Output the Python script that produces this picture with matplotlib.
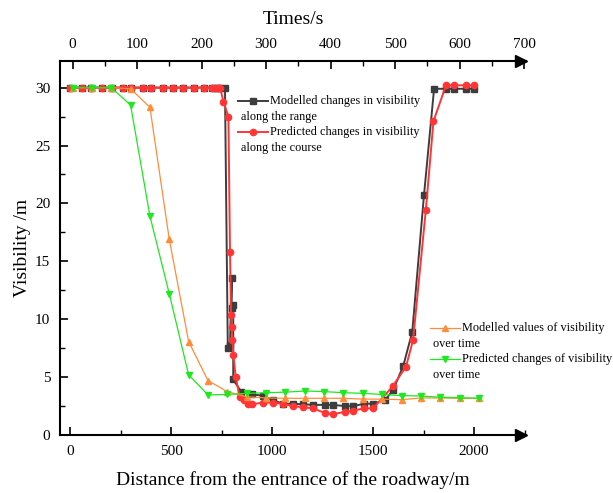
import matplotlib
matplotlib.use("Agg")
import matplotlib.pyplot as plt
import matplotlib.transforms as mtransforms
from matplotlib.lines import Line2D
from matplotlib.ticker import MultipleLocator

plt.rcParams['font.family'] = ['Liberation Serif', 'DejaVu Serif']

#------------------------------------------------------------------#
# distance series (bottom axis, m)
dist_top = [0, 59, 104, 158, 208, 262, 302, 361, 401, 460, 510, 559, 614, 663, 703, 718, 733, 743]

red_x = dist_top + [759, 784, 792, 797, 800, 804, 809, 820, 840, 861, 880, 899, 955, 1005, 1054,
                    1104, 1153, 1203, 1262, 1302, 1361, 1401, 1455, 1500, 1597, 1663, 1698,
                    1761, 1799, 1861, 1903, 1960, 2000]
red_y = [30.0] * len(dist_top) + [28.8, 27.5, 15.8, 10.4, 9.3, 8.2, 6.9, 5.0, 3.3, 3.0, 2.7, 2.65, 2.8, 2.8, 2.7,
                                  2.5, 2.4, 2.3, 1.9, 1.8, 2.0, 2.1, 2.3, 2.3, 4.2, 5.9, 8.2,
                                  19.4, 27.1, 30.2, 30.2, 30.2, 30.2]

black_x = dist_top + [767, 781, 792, 800, 800, 808, 808, 848, 899, 957, 1003, 1056, 1105, 1155, 1202,
                      1262, 1300, 1361, 1403, 1457, 1501, 1559, 1600, 1650, 1694, 1752, 1802,
                      1861, 1901, 1960, 2000]
black_y = [30.0] * len(dist_top) + [30.0, 7.5, 7.8, 13.6, 11.0, 11.2, 4.8, 3.7, 3.5, 3.4, 3.0, 2.7, 2.7, 2.65, 2.6,
                                    2.6, 2.6, 2.5, 2.5, 2.7, 2.7, 3.0, 3.9, 6.0, 8.9, 20.7, 29.9,
                                    29.9, 29.9, 29.9, 29.9]

# time series (top axis, s)
tiempo = [0, 30, 60, 90, 120, 150, 180, 210, 240, 270, 300, 330, 360, 390, 420, 450, 480, 510, 540, 570, 600, 630]
orange_y = [30.0, 30.0, 30.0, 29.9, 28.3, 16.9, 8.07, 4.7, 3.74, 3.3, 3.2, 3.17, 3.17, 3.17, 3.17, 3.1,
            3.1, 3.05, 3.2, 3.2, 3.17, 3.17]
green_y = [30.0, 30.0, 30.0, 28.5, 18.9, 12.2, 5.2, 3.46, 3.5, 3.6, 3.65, 3.7, 3.8, 3.75, 3.65, 3.6,
           3.5, 3.4, 3.37, 3.26, 3.22, 3.17]

#------------------------------------------------------------------#
W, H = 613, 493
def fx(x):
    return x / W
def fy(y):
    return 1 - y / H

c_black = "#3d3d3d"
c_red = "#ff3535"
c_orange = "#ff8c3a"
c_green = "#1ee81e"

fig = plt.figure(figsize=(6.13, 4.93), dpi=100)
ax = fig.add_axes([fx(60), fy(435), (526 - 60) / W, (435 - 61) / H])
ax2 = ax.twiny()

ax.plot(black_x, black_y, color=c_black, lw=1.4, marker="s", ms=3.8, zorder=3)
ax.plot(red_x, red_y, color=c_red, lw=1.4, marker="o", ms=4.5, zorder=4)
ax2.plot(tiempo, orange_y, color=c_orange, lw=0.9, marker="^", ms=5, zorder=3)
ax2.plot(tiempo, green_y, color=c_green, lw=0.9, marker="v", ms=5, zorder=4)

ax.set_xlim(-49.5, 2257)
ax.set_ylim(0, 32.3)
ax2.set_xlim(-19.4, 703)

ax.set_xticks([0, 500, 1000, 1500, 2000])
ax.xaxis.set_minor_locator(MultipleLocator(250))
ax.set_yticks([0, 5, 10, 15, 20, 25, 30])
ax.yaxis.set_minor_locator(MultipleLocator(2.5))
ax2.set_xticks([0, 100, 200, 300, 400, 500, 600, 700])
ax2.xaxis.set_minor_locator(MultipleLocator(50))

ax.tick_params(which="major", direction="in", length=6, width=1.2, labelsize=11, top=False, right=False)
ax.tick_params(which="minor", direction="in", length=3.5, width=1.0, top=False, right=False)
ax.tick_params(axis="x", pad=7)
ax.tick_params(axis="y", pad=7)
ax2.tick_params(which="major", direction="in", length=6, width=1.2, labelsize=11, pad=7)
ax2.tick_params(which="minor", direction="in", length=3.5, width=1.0)

for s in ["right", "top"]:
    ax.spines[s].set_visible(False)
for s in ["right", "bottom", "left"]:
    ax2.spines[s].set_visible(False)
for s in ["left", "bottom"]:
    ax.spines[s].set_linewidth(1.5)
ax2.spines["top"].set_linewidth(1.5)

# arrow heads on the two x axes
off = mtransforms.offset_copy(ax.transAxes, fig=fig, x=-5, y=0, units="dots")
ax.plot([1], [0], marker=">", color="black", ms=8.5, transform=off, clip_on=False)
ax.plot([1], [1], marker=">", color="black", ms=8.5, transform=off, clip_on=False)

ax.set_xlabel("Distance from the entrance of the roadway/m", fontsize=14, labelpad=10)
ax2.set_xlabel("Times/s", fontsize=14, labelpad=10)
ax.set_ylabel("Visibility /m", fontsize=14, labelpad=3)

# legends written by hand (text wraps under the handle)
def entrada(x0, y0, color, marker, ms, lw, line1, line2):
    fig.add_artist(Line2D([fx(x0), fx(x0 + 15), fx(x0 + 30)], [fy(y0)] * 3, color=color, lw=lw,
                          marker=marker, ms=ms, markevery=[1], transform=fig.transFigure))
    fig.text(fx(x0 + 32), fy(y0), line1, fontsize=8.8, va="center")
    fig.text(fx(x0 + 3), fy(y0 + 16), line2, fontsize=8.8, va="center")

entrada(238, 101, c_black, "s", 3.8, 1.4, "Modelled changes in visibility", "along the range")
entrada(238, 132, c_red, "o", 4.5, 1.4, "Predicted changes in visibility", "along the course")
entrada(430, 328, c_orange, "^", 5, 0.9, "Modelled values of visibility", "over time")
entrada(430, 359, c_green, "v", 5, 0.9, "Predicted changes of visibility", "over time")

fig.savefig("out.png", dpi=100)
